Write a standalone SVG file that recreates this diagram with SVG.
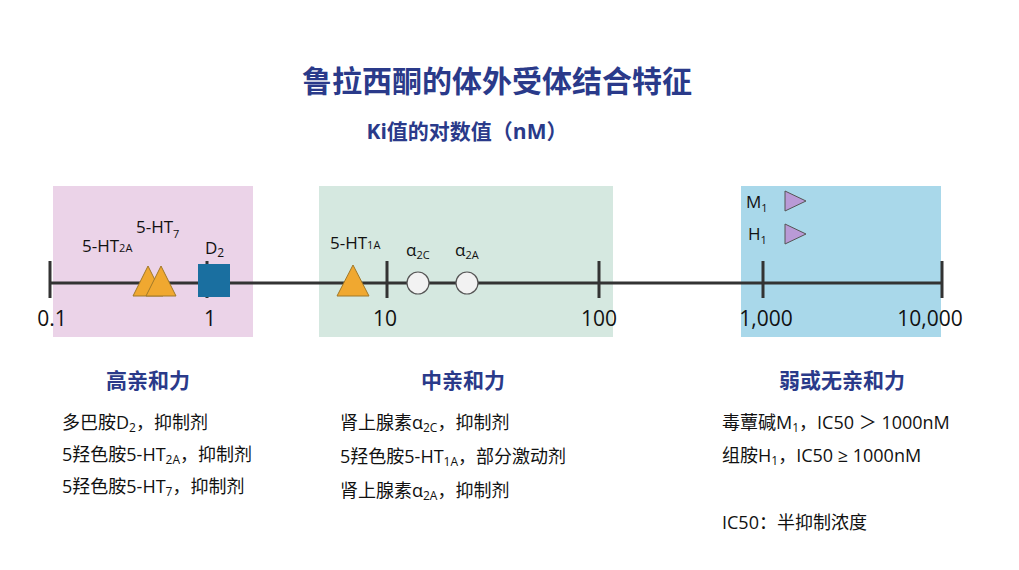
<svg xmlns="http://www.w3.org/2000/svg" width="1019" height="570" viewBox="0 0 1019 570">
<style>
text{font-family:"Open Sans","Noto Sans CJK SC",sans-serif;fill:#111}
.t{fill:#2a3a8a;font-weight:bold}
.ax{font-size:21px}
.lb{font-size:17px}
.b{font-size:18px}
.tri{fill:#f0a830;stroke:#a07828;stroke-width:1}
.pt{fill:#b99ad6;stroke:#555;stroke-width:1}
.c{fill:#f2f2f2;stroke:#555;stroke-width:1.2}
</style>
<rect width="1019" height="570" fill="#fff"/>
<text class="t" x="497" y="92" font-size="30" text-anchor="middle">鲁拉西酮的体外受体结合特征</text>
<text class="t" x="467" y="139" font-size="21" text-anchor="middle">Ki值的对数值（nM）</text>
<rect x="53" y="186" width="200" height="151" fill="#ebd3e8"/>
<rect x="319" y="186" width="294" height="151" fill="#d5e8e0"/>
<rect x="741" y="186" width="200" height="151" fill="#a9d8ea"/>
<g id="axis" stroke="#333" stroke-width="3">
<line x1="50" y1="283" x2="942" y2="283"/>
<line x1="50" y1="261" x2="50" y2="298"/><line x1="207" y1="261" x2="207" y2="298"/><line x1="387" y1="261" x2="387" y2="298"/><line x1="599" y1="261" x2="599" y2="298"/><line x1="763" y1="261" x2="763" y2="298"/><line x1="942" y1="261" x2="942" y2="298"/>
</g>
<g class="ax">
<text x="52" y="326" text-anchor="middle">0.1</text><text x="210" y="326" text-anchor="middle">1</text><text x="385" y="326" text-anchor="middle">10</text><text x="599" y="326" text-anchor="middle">100</text><text x="766" y="326" text-anchor="middle">1,000</text><text x="930" y="326" text-anchor="middle">10,000</text>
</g>
<g id="n-5ht2a"><polygon class="tri" points="133,296 148,266 163,296"/><text class="lb" x="82" y="252">5-HT<tspan font-size="11">2A</tspan></text></g>
<g id="n-5ht7"><polygon class="tri" points="146,296 161,266 176,296"/><text class="lb" x="136" y="233">5-HT<tspan font-size="11" dy="5">7</tspan></text></g>
<g id="n-d2"><rect x="198" y="264" width="32" height="33" fill="#1a6fa0"/><text class="lb" x="205" y="254">D<tspan font-size="12" dy="3">2</tspan></text></g>
<g id="n-5ht1a"><polygon class="tri" points="337,296 353,265 369,296"/><text class="lb" x="330" y="249">5-HT<tspan font-size="11">1A</tspan></text></g>
<g id="n-a2c"><circle class="c" cx="418" cy="283" r="11"/><text class="lb" x="406" y="256">α<tspan font-size="11" dy="3">2C</tspan></text></g>
<g id="n-a2a"><circle class="c" cx="467" cy="283" r="11"/><text class="lb" x="455" y="256">α<tspan font-size="11" dy="3">2A</tspan></text></g>
<g id="n-m1"><polygon class="pt" points="785,191 806,201 785,211"/><text class="lb" x="746" y="208">M<tspan font-size="11" dy="4">1</tspan></text></g>
<g id="n-h1"><polygon class="pt" points="785,224 806,234 785,244"/><text class="lb" x="748" y="240">H<tspan font-size="11" dy="4">1</tspan></text></g>
<text class="t" x="148" y="388" font-size="21" text-anchor="middle">高亲和力</text>
<text class="t" x="463" y="388" font-size="21" text-anchor="middle">中亲和力</text>
<text class="t" x="842" y="388" font-size="21" text-anchor="middle">弱或无亲和力</text>
<g class="b">
<text x="62" y="429">多巴胺D<tspan font-size="12" dy="3">2</tspan><tspan dy="-3">，抑制剂</tspan></text>
<text x="62" y="461">5羟色胺5-HT<tspan font-size="12" dy="3">2A</tspan><tspan dy="-3">，抑制剂</tspan></text>
<text x="62" y="493">5羟色胺5-HT<tspan font-size="12" dy="3">7</tspan><tspan dy="-3">，抑制剂</tspan></text>
<text x="340" y="429">肾上腺素α<tspan font-size="12" dy="3">2C</tspan><tspan dy="-3">，抑制剂</tspan></text>
<text x="340" y="463">5羟色胺5-HT<tspan font-size="12" dy="3">1A</tspan><tspan dy="-3">，部分激动剂</tspan></text>
<text x="340" y="497">肾上腺素α<tspan font-size="12" dy="3">2A</tspan><tspan dy="-3">，抑制剂</tspan></text>
<text x="722" y="429">毒蕈碱M<tspan font-size="12" dy="3">1</tspan><tspan dy="-3">，IC50 ＞ 1000nM</tspan></text>
<text x="722" y="462">组胺H<tspan font-size="12" dy="3">1</tspan><tspan dy="-3">，IC50 ≥ 1000nM</tspan></text>
<text x="722" y="529">IC50：半抑制浓度</text>
</g>
</svg>
